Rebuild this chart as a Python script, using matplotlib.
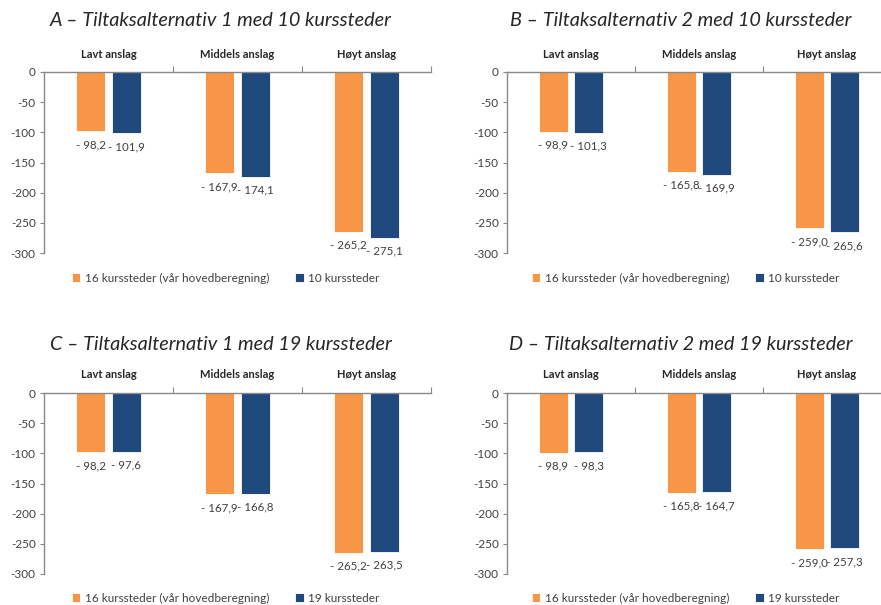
import matplotlib
matplotlib.use("Agg")
import matplotlib.pyplot as plt
import numpy as np

plt.rcParams['font.family'] = ['Lato', 'DejaVu Sans']
plt.rcParams['axes.unicode_minus'] = False

categories = ["Lavt anslag", "Middels anslag", "Høyt anslag"]
yticks = [0, -50, -100, -150, -200, -250, -300]

titles = [
    "A – Tiltaksalternativ 1 med 10 kurssteder",
    "B – Tiltaksalternativ 2 med 10 kurssteder",
    "C – Tiltaksalternativ 1 med 19 kurssteder",
    "D – Tiltaksalternativ 2 med 19 kurssteder",
]
base_label = "16 kurssteder (vår hovedberegning)"
alt_labels = ["10 kurssteder", "10 kurssteder", "19 kurssteder", "19 kurssteder"]

base_A = [-98.2, -167.9, -265.2]
alt_A = [-101.9, -174.1, -275.1]
base_B = [-98.9, -165.8, -259.0]
alt_B = [-101.3, -169.9, -265.6]
base_C = [-98.2, -167.9, -265.2]
alt_C = [-97.6, -166.8, -263.5]
base_D = [-98.9, -165.8, -259.0]
alt_D = [-98.3, -164.7, -257.3]

bases = [base_A, base_B, base_C, base_D]
alts = [alt_A, alt_B, alt_C, alt_D]

ORANGE = "#F79646"
BLUE = "#1F497D"
GREY = "#898989"
TEXT = "#404040"

W, H = 881, 605
fig = plt.figure(figsize=(W / 100, H / 100), dpi=100)

# panel geometry in pixels: left, zero-line y, width, height
panels = [
    (44, 72, 387, 181),
    (507, 72, 384, 181),
    (44, 393, 387, 181),
    (507, 393, 384, 181),
]
title_x = [221, 681, 221, 681]
title_y = [20, 20, 345, 345]
legend_x = [226, 686, 226, 686]
legend_y = [278, 278, 598, 598]


def fmt(v):
    return "- " + f"{abs(v):.1f}".replace(".", ",")


x = np.arange(len(categories))
bw = 0.223
off = 0.138

for i, (px, py, pw, ph) in enumerate(panels):
    ax = fig.add_axes([px / W, 1 - (py + ph) / H, pw / W, ph / H])
    b1 = ax.bar(x - off, bases[i], width=bw, color=ORANGE, label=base_label,
                edgecolor="white", linewidth=0.6)
    b2 = ax.bar(x + off, alts[i], width=bw, color=BLUE, label=alt_labels[i],
                edgecolor="white", linewidth=0.6)
    for bars, vals in ((b1, bases[i]), (b2, alts[i])):
        for r, v in zip(bars, vals):
            ax.annotate(fmt(v), (r.get_x() + r.get_width() / 2, v),
                        xytext=(0, -9.5), textcoords="offset points",
                        ha="center", va="center", fontsize=8.3, color=TEXT)
    ax.set_xlim(-0.5, 2.5)
    ax.set_ylim(-300, 0)
    ax.set_yticks(yticks)
    ax.set_yticklabels([str(t) for t in yticks], fontsize=8.5, color=TEXT)
    ax.tick_params(axis="y", length=3, width=0.8, color=GREY, pad=3)

    ax.spines["right"].set_visible(False)
    ax.spines["bottom"].set_visible(False)
    for s in ("top", "left"):
        ax.spines[s].set_color(GREY)
        ax.spines[s].set_linewidth(1.0)

    ax.xaxis.set_ticks_position("top")
    ax.set_xticks([0.5, 1.5, 2.5])
    ax.set_xticklabels([])
    ax.set_xticks(x, minor=True)
    ax.set_xticklabels(categories, minor=True, fontsize=8, fontweight="bold",
                       color="#262626")
    ax.tick_params(axis="x", which="major", direction="out", length=4,
                   width=0.8, color=GREY)
    ax.tick_params(axis="x", which="minor", length=0, pad=9)

    fig.text(title_x[i] / W, 1 - title_y[i] / H, titles[i], ha="center",
             va="center", fontsize=14.3, style="italic", color="#262626")
    fig.legend(handles=[b1, b2], loc="center",
               bbox_to_anchor=(legend_x[i] / W, 1 - legend_y[i] / H),
               ncol=2, frameon=False, fontsize=8.5, handlelength=0.7,
               handleheight=0.7, handletextpad=0.4, columnspacing=2.2,
               labelcolor=TEXT)

fig.savefig("out.png", dpi=100, facecolor="white")
